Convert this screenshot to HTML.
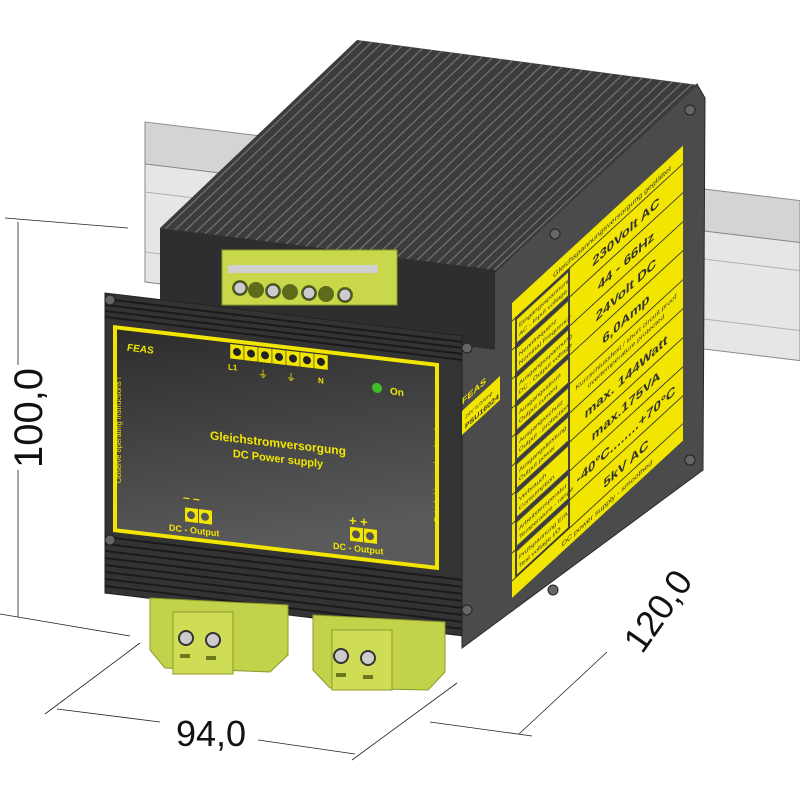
<!DOCTYPE html>
<html><head><meta charset="utf-8"><style>
html,body{margin:0;padding:0;background:#fff;}
svg{display:block;font-family:"Liberation Sans",sans-serif;}
</style></head><body>
<svg width="800" height="800" viewBox="0 0 800 800" xmlns="http://www.w3.org/2000/svg">
<rect width="800" height="800" fill="#fff"/>
<!-- DIN rail -->
<g transform="matrix(1,0.12,0,1,145,122)">
  <rect x="0" y="0" width="655" height="42" fill="#d4d4d4" stroke="#8a8a8a" stroke-width="1"/>
  <rect x="0" y="42" width="655" height="118" fill="#e6e6e6" stroke="#8a8a8a" stroke-width="1"/>
  <line x1="0" y1="70" x2="655" y2="70" stroke="#b0b0b0"/>
  <line x1="0" y1="130" x2="655" y2="130" stroke="#b0b0b0"/>
</g>
<!-- right side body -->
<polygon points="697,84 705,98 703,470 462,648 460,335 495,272" fill="#4b4b4b" stroke="#2a2a2a"/>
<!-- top heatsink -->
<polygon points="357,40 698,85 495,272 160,228" fill="#3c3c3c"/>
<g stroke="#707070" stroke-width="1.3">
<line x1="362" y1="41" x2="165" y2="229"/><line x1="372" y1="42" x2="175" y2="230"/><line x1="382" y1="43" x2="185" y2="231"/><line x1="392" y1="45" x2="195" y2="233"/><line x1="402" y1="46" x2="205" y2="234"/><line x1="412" y1="47" x2="215" y2="235"/><line x1="422" y1="49" x2="225" y2="237"/><line x1="432" y1="50" x2="235" y2="238"/><line x1="442" y1="51" x2="245" y2="239"/><line x1="452" y1="53" x2="255" y2="241"/><line x1="462" y1="54" x2="265" y2="242"/><line x1="472" y1="55" x2="275" y2="243"/><line x1="482" y1="57" x2="285" y2="245"/><line x1="492" y1="58" x2="295" y2="246"/><line x1="502" y1="59" x2="305" y2="247"/><line x1="512" y1="61" x2="315" y2="249"/><line x1="522" y1="62" x2="325" y2="250"/><line x1="532" y1="63" x2="335" y2="251"/><line x1="542" y1="65" x2="345" y2="253"/><line x1="552" y1="66" x2="355" y2="254"/><line x1="562" y1="67" x2="365" y2="255"/><line x1="572" y1="69" x2="375" y2="257"/><line x1="582" y1="70" x2="385" y2="258"/><line x1="592" y1="71" x2="395" y2="259"/><line x1="602" y1="73" x2="405" y2="261"/><line x1="612" y1="74" x2="415" y2="262"/><line x1="622" y1="75" x2="425" y2="263"/><line x1="632" y1="77" x2="435" y2="265"/><line x1="642" y1="78" x2="445" y2="266"/><line x1="652" y1="79" x2="455" y2="267"/><line x1="662" y1="81" x2="465" y2="269"/><line x1="672" y1="82" x2="475" y2="270"/><line x1="682" y1="83" x2="485" y2="271"/><line x1="692" y1="84" x2="492" y2="272"/>
</g>
<!-- upper front step -->
<g transform="matrix(1,0.125,0,1,160,228)">
  <rect x="0" y="0" width="335" height="80" fill="#2e2e2e"/>
</g>
<!-- top connector -->
<rect x="222" y="250" width="175" height="55" fill="#c9d84a" stroke="#8d9a2a"/>
<rect x="228" y="265" width="150" height="8" fill="#d0d0d0"/>
<g fill="#5d6a1a"><circle cx="240" cy="288" r="8"/><circle cx="256" cy="290" r="8"/><circle cx="273" cy="291" r="8"/><circle cx="290" cy="292" r="8"/><circle cx="309" cy="293" r="8"/><circle cx="326" cy="294" r="8"/><circle cx="345" cy="295" r="8"/></g>
<g fill="#ccc" stroke="#333"><circle cx="240" cy="288" r="6"/><circle cx="273" cy="291" r="6"/><circle cx="309" cy="293" r="6"/><circle cx="345" cy="295" r="6"/></g>
<!-- front face -->
<g transform="matrix(1,0.12,0,1,105,293)">
  <rect x="0" y="0" width="357" height="300" fill="#333" stroke="#222"/>
  <g stroke="#1a1a1a" stroke-width="2">
    <line x1="0" y1="6" x2="357" y2="6"/><line x1="0" y1="12" x2="357" y2="12"/><line x1="0" y1="18" x2="357" y2="18"/><line x1="0" y1="24" x2="357" y2="24"/>
    <line x1="0" y1="244" x2="357" y2="244"/><line x1="0" y1="251" x2="357" y2="251"/><line x1="0" y1="258" x2="357" y2="258"/><line x1="0" y1="265" x2="357" y2="265"/><line x1="0" y1="272" x2="357" y2="272"/><line x1="0" y1="279" x2="357" y2="279"/><line x1="0" y1="286" x2="357" y2="286"/><line x1="0" y1="293" x2="357" y2="293"/>
  </g>
</g>
<!-- front panel -->
<defs><linearGradient id="pg" x1="0" y1="0" x2="0.4" y2="1"><stop offset="0" stop-color="#2c2c2c"/><stop offset="1" stop-color="#5a5a5a"/></linearGradient></defs>
<g transform="matrix(1,0.117,0,1,113,325)">
  <rect x="2" y="2" width="322" height="203" fill="url(#pg)" stroke="#f2e600" stroke-width="4"/>
  <text x="14" y="24" font-size="10" font-weight="bold" fill="#f2e600" font-style="italic">FEAS</text>
  <g fill="#f2e600" stroke="#333" stroke-width="0.5">
    <rect x="117" y="5" width="14" height="15"/><rect x="131" y="5" width="14" height="15"/><rect x="145" y="5" width="14" height="15"/><rect x="159" y="5" width="14" height="15"/><rect x="173" y="5" width="14" height="15"/><rect x="187" y="5" width="14" height="15"/><rect x="201" y="5" width="14" height="15"/>
  </g>
  <g fill="#222"><circle cx="124" cy="12.5" r="4"/><circle cx="138" cy="12.5" r="4"/><circle cx="152" cy="12.5" r="4"/><circle cx="166" cy="12.5" r="4"/><circle cx="180" cy="12.5" r="4"/><circle cx="194" cy="12.5" r="4"/><circle cx="208" cy="12.5" r="4"/></g>
  <text x="115" y="31" font-size="8" font-weight="bold" fill="#f2e600">L1</text>
  <text x="145" y="35" font-size="10" fill="#f2e600">⏚</text>
  <text x="173" y="35" font-size="10" fill="#f2e600">⏚</text>
  <text x="205" y="34" font-size="8" font-weight="bold" fill="#f2e600">N</text>
  <circle cx="264" cy="32" r="5" fill="#3fbf2a"/>
  <text x="277" y="37" font-size="10" font-weight="bold" fill="#f2e600">On</text>
  <text x="165" y="103" font-size="12" font-weight="bold" fill="#f2e600" text-anchor="middle">Gleichstromversorgung</text>
  <text x="165" y="118" font-size="11" font-weight="bold" fill="#f2e600" text-anchor="middle">DC Power supply</text>
  <text x="70" y="168" font-size="12" font-weight="bold" fill="#f2e600">– –</text>
  <rect x="72" y="174" width="13" height="14" fill="#f2e600"/><rect x="86" y="174" width="13" height="14" fill="#f2e600"/>
  <circle cx="78" cy="181" r="4" fill="#555"/><circle cx="92" cy="181" r="4" fill="#555"/>
  <text x="56" y="199" font-size="9" font-weight="bold" fill="#f2e600">DC - Output</text>
  <text x="236" y="172" font-size="13" font-weight="bold" fill="#f2e600">+ +</text>
  <rect x="237" y="174" width="13" height="14" fill="#f2e600"/><rect x="251" y="174" width="13" height="14" fill="#f2e600"/>
  <circle cx="243" cy="181" r="4" fill="#555"/><circle cx="257" cy="181" r="4" fill="#555"/>
  <text x="220" y="198" font-size="9" font-weight="bold" fill="#f2e600">DC - Output</text>
</g>
<text transform="translate(121,430) rotate(-90)" font-size="7.5" fill="#f2e600" text-anchor="middle">Observe operating instructions !</text>
<text transform="translate(439,475) rotate(-90)" font-size="7.5" fill="#f2e600" text-anchor="middle">Betriebshinweise beachten !</text>
<!-- small side label -->
<g transform="matrix(1,-0.92,0,1,462,405)">
  <text x="0" y="0" font-size="9" font-weight="bold" fill="#f2e600">FEAS</text>
  <rect x="0" y="6" width="38" height="24" fill="#f2e600"/>
  <text x="3" y="17" font-size="5" fill="#333">24V 6,0Amp</text>
  <text x="3" y="27" font-size="7" font-weight="bold" fill="#333">PSU16024</text>
</g>
<!-- right yellow label -->
<g transform="matrix(1,-0.92,0,1,512,303)" font-weight="bold" fill="#333">
  <rect x="0" y="0" width="171" height="295" fill="#f2e600"/>
  <rect x="3" y="18" width="55" height="260" fill="#444"/>
  <g stroke="#333" stroke-width="1.2">
    <line x1="0" y1="18" x2="171" y2="18"/><line x1="0" y1="47" x2="171" y2="47"/><line x1="0" y1="76" x2="171" y2="76"/><line x1="0" y1="105" x2="171" y2="105"/><line x1="0" y1="134" x2="171" y2="134"/><line x1="0" y1="163" x2="171" y2="163"/><line x1="0" y1="192" x2="171" y2="192"/><line x1="0" y1="221" x2="171" y2="221"/><line x1="0" y1="250" x2="171" y2="250"/><line x1="0" y1="278" x2="171" y2="278"/>
  </g>
  <g fill="#f2e600" stroke="none">
    <rect x="5" y="21" width="51" height="23"/><rect x="5" y="50" width="51" height="23"/><rect x="5" y="79" width="51" height="23"/><rect x="5" y="108" width="51" height="23"/><rect x="5" y="137" width="51" height="23"/><rect x="5" y="166" width="51" height="23"/><rect x="5" y="195" width="51" height="23"/><rect x="5" y="224" width="51" height="23"/><rect x="5" y="253" width="51" height="23"/>
  </g>
  <text x="100" y="13" font-size="7" font-weight="normal" text-anchor="middle">Gleichspannungsversorgung geglättet</text>
  <g font-size="6" font-weight="normal">
    <text x="7" y="31">Eingangsspannung</text><text x="7" y="40">AC - Input voltage</text>
    <text x="7" y="60">Nennfrequenz</text><text x="7" y="69">Nominal Frequency</text>
    <text x="7" y="89">Ausgangsspannung</text><text x="7" y="98">DC - Output voltage</text>
    <text x="7" y="118">Ausgangsstrom</text><text x="7" y="127">Output current</text>
    <text x="7" y="147">Ausgangsschutz</text><text x="7" y="156">Output - protection</text>
    <text x="7" y="176">Ausgangsleistung</text><text x="7" y="185">Output power</text>
    <text x="7" y="205">Verbrauch</text><text x="7" y="214">Consumption</text>
    <text x="7" y="234">Arbeitstemperatur</text><text x="7" y="243">Temperature - range</text>
    <text x="7" y="263">Prüfspannung E/A</text><text x="7" y="272">Test voltage I/O</text>
  </g>
  <g font-size="13" text-anchor="middle">
    <text x="114" y="38">230Volt AC</text>
    <text x="114" y="67">44 - 66Hz</text>
    <text x="114" y="96">24Volt DC</text>
    <text x="114" y="125">6,0Amp</text>
    <text x="114" y="183">max. 144Watt</text>
    <text x="114" y="212">max.175VA</text>
    <text x="114" y="241">-40°C........+70°C</text>
    <text x="114" y="270">5kV AC</text>
  </g>
  <text x="114" y="146" font-size="6.5" font-weight="normal" text-anchor="middle">Kurzschlussfest / short circuit proof</text>
  <text x="114" y="155" font-size="6.5" font-weight="normal" text-anchor="middle">overtemperature protected</text>
  <text x="95" y="290" font-size="7" font-weight="normal" text-anchor="middle">DC power supply - smoothed</text>
</g>
<!-- screws -->
<g fill="#666" stroke="#222"><circle cx="110" cy="300" r="5"/><circle cx="110" cy="540" r="5"/><circle cx="467" cy="348" r="5"/><circle cx="467" cy="610" r="5"/><circle cx="555" cy="234" r="5"/><circle cx="690" cy="110" r="5"/><circle cx="690" cy="460" r="5"/><circle cx="553" cy="590" r="5"/></g>
<!-- bottom connectors -->
<g>
  <path d="M150,598 L288,605 L288,655 L270,672 L165,668 L150,650 Z" fill="#c2d24a" stroke="#8d9a2a"/>
  <rect x="173" y="612" width="60" height="62" fill="#cedd55" stroke="#8d9a2a"/>
  <circle cx="186" cy="638" r="7" fill="#ccc" stroke="#333" stroke-width="2"/><circle cx="213" cy="640" r="7" fill="#ccc" stroke="#333" stroke-width="2"/>
  <rect x="180" y="654" width="10" height="4" fill="#6a7a1a"/><rect x="206" y="656" width="10" height="4" fill="#6a7a1a"/>
  <path d="M313,615 L445,622 L445,672 L428,690 L330,688 L313,670 Z" fill="#c2d24a" stroke="#8d9a2a"/>
  <rect x="332" y="630" width="60" height="60" fill="#cedd55" stroke="#8d9a2a"/>
  <circle cx="341" cy="656" r="7" fill="#ccc" stroke="#333" stroke-width="2"/><circle cx="368" cy="658" r="7" fill="#ccc" stroke="#333" stroke-width="2"/>
  <rect x="336" y="673" width="10" height="4" fill="#6a7a1a"/><rect x="363" y="675" width="10" height="4" fill="#6a7a1a"/>
</g>
<!-- dimensions -->
<g stroke="#222" stroke-width="0.8" fill="none">
  <line x1="5" y1="218" x2="128" y2="228"/>
  <line x1="0" y1="614" x2="130" y2="636"/>
  <line x1="18" y1="222" x2="18" y2="365"/><line x1="18" y1="470" x2="18" y2="617"/>
  <line x1="45" y1="714" x2="140" y2="643"/>
  <line x1="57" y1="709" x2="160" y2="722"/>
  <line x1="258" y1="740" x2="355" y2="754"/>
  <line x1="352" y1="760" x2="457" y2="683"/>
  <line x1="430" y1="722" x2="532" y2="736"/>
  <line x1="519" y1="734" x2="607" y2="652"/>
</g>
<text transform="translate(42,418) rotate(-90)" font-size="40" fill="#111" text-anchor="middle">100,0</text>
<text x="211" y="746" font-size="36" fill="#111" text-anchor="middle">94,0</text>
<text transform="translate(668,618) rotate(-55)" font-size="36" fill="#111" text-anchor="middle">120,0</text>
</svg>
</body></html>
